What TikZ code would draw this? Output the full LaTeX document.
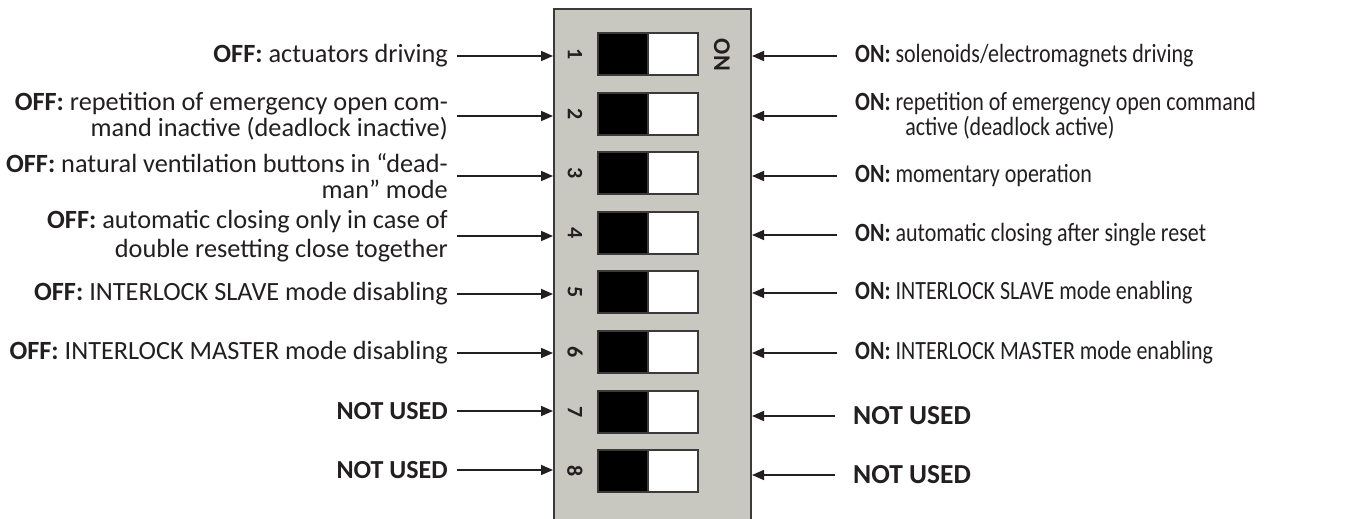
\documentclass[tikz,border=0pt]{standalone}
\usepackage{fontspec}
\setmainfont{Carlito}
\usetikzlibrary{arrows.meta}
\definecolor{txt}{HTML}{231F20}
\definecolor{bodyfill}{HTML}{C8C8C1}
\definecolor{edgecol}{HTML}{3A3A3A}
\begin{document}
\begin{tikzpicture}[x=1pt,y=-1pt,
  lab/.style={text=txt, inner sep=0pt},
  llab/.style={lab, font=\fontsize{26.3}{25.5}\selectfont, anchor=east, align=right},
  rlab/.style={lab, font=\fontsize{26.3}{25}\selectfont, anchor=west, align=left, xscale=0.836},
  arr/.style={draw=txt, line width=1.6pt, -{Triangle[length=12pt,width=10pt]}},
  swblack/.style={draw=edgecol, fill=black, line width=2pt, minimum width=50pt, minimum height=42pt, inner sep=0pt},
  swwhite/.style={draw=edgecol, fill=white, line width=2pt, minimum width=50pt, minimum height=42pt, inner sep=0pt},
  num/.style={font=\fontsize{22}{22}\selectfont\bfseries, text=txt, inner sep=0pt, rotate=-90}
]
\useasboundingbox (0,0) rectangle (1357,519);
\fill[white] (0,0) rectangle (1357,519);
\node[draw=edgecol, fill=bodyfill, line width=2pt, minimum width=197pt, minimum height=530pt, anchor=north west, inner sep=0pt] (body) at (553,8) {};
\foreach \i in {1,...,8}{
  \pgfmathsetmacro{\yy}{54+59.6*(\i-1)}
  \node[swblack] (b\i) at (623,\yy) {};
  \node[swwhite] (w\i) at (673,\yy) {};
  \node[num] (n\i) at (575,\yy) {\i};
}
\node[num, font=\fontsize{24}{24}\selectfont\bfseries] (on) at (722,55) {ON};

% left labels
\node[llab] (l1) at (448,56) {\textbf{OFF:} actuators driving};
\node[llab] (l2) at (448,116) {\textbf{OFF:} repetition of emergency open com-\\mand inactive (deadlock inactive)};
\node[llab] (l3) at (448,176) {\textbf{OFF:} natural ventilation buttons in “dead-\\man” mode};
\node[llab, font=\fontsize{26.3}{28.5}\selectfont] (l4) at (448,236) {\textbf{OFF:} automatic closing only in case of\\double resetting close together};
\node[llab] (l5) at (448,294) {\textbf{OFF:} INTERLOCK SLAVE mode disabling};
\node[llab] (l6) at (448,353) {\textbf{OFF:} INTERLOCK MASTER mode disabling};
\node[llab, font=\fontsize{26}{26}\selectfont] (l7) at (448,411) {\textbf{NOT USED}};
\node[llab, font=\fontsize{26}{26}\selectfont] (l8) at (448,470) {\textbf{NOT USED}};

% right labels
\node[rlab] (r1) at (855,56) {\textbf{ON:} solenoids/electromagnets driving};
\node[rlab] (r2) at (855,116) {\textbf{ON:} repetition of emergency open command\\\hspace*{60pt}active (deadlock active)};
\node[rlab] (r3) at (855,176) {\textbf{ON:} momentary operation};
\node[rlab] (r4) at (855,235) {\textbf{ON:} automatic closing after single reset};
\node[rlab] (r5) at (855,293) {\textbf{ON:} INTERLOCK SLAVE mode enabling};
\node[rlab] (r6) at (855,353) {\textbf{ON:} INTERLOCK MASTER mode enabling};
\node[rlab, xscale=1.196, font=\fontsize{27.5}{27.5}\selectfont] (r7) at (853,416) {\textbf{NOT USED}};
\node[rlab, xscale=1.196, font=\fontsize{27.5}{27.5}\selectfont] (r8) at (853,475) {\textbf{NOT USED}};

\foreach \i in {1,...,8}{
  \draw[arr] ([xshift=9pt]l\i.east) -- (body.west |- l\i.east);
  \draw[arr] ([xshift=-18pt]r\i.west) -- (body.east |- r\i.west);
}
\end{tikzpicture}
\end{document}
